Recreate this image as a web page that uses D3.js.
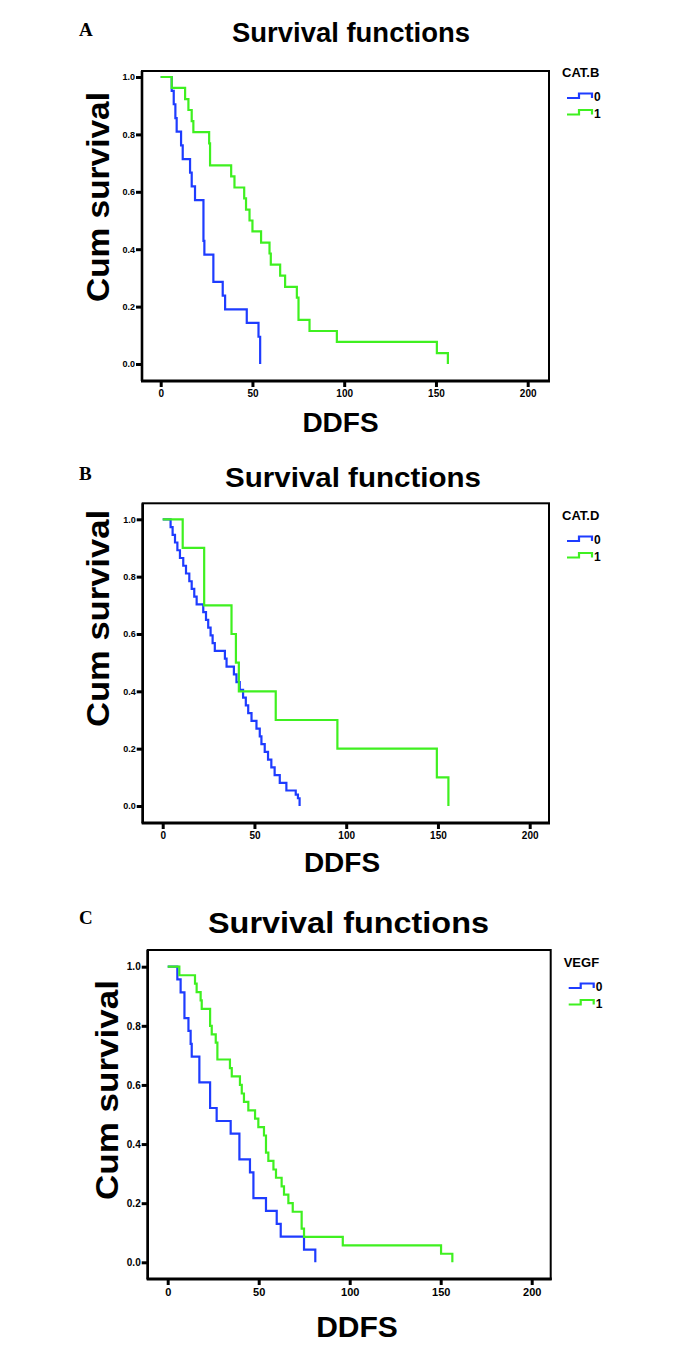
<!DOCTYPE html>
<html><head><meta charset="utf-8">
<script src="https://cdn.jsdelivr.net/npm/d3@7"></script>
<style>body{margin:0;background:#fff}svg{display:block}</style>
</head><body>
<script>
// ---------- DATA ----------
const xTicks = [0, 50, 100, 150, 200];
const yTicks = [0.0, 0.2, 0.4, 0.6, 0.8, 1.0];
const panelLetters = ["A", "B", "C"];
const legendTitles = ["CAT.B", "CAT.D", "VEGF"];
const groupLabels = ["0", "1"];

// Panel A
const A0_time = [0, 6.0, 7.1, 8.0, 8.7, 11.1, 12.0, 16.0, 16.9, 18.7, 23.3, 23.8, 28.7, 33.8, 35.1, 46.9, 53.3, 54.2];
const A0_surv = [1, 0.952, 0.905, 0.857, 0.810, 0.762, 0.714, 0.667, 0.619, 0.571, 0.429, 0.381, 0.286, 0.238, 0.190, 0.143, 0.095, 0];
const A1_time = [0, 6.0, 13.3, 15.1, 16.9, 17.8, 26.4, 26.9, 38.4, 40.2, 45.5, 46.5, 48.4, 50.0, 54.7, 59.3, 60.0, 65.1, 67.8, 74.2, 75.1, 81.1, 96.0, 150.5, 156.5];
const A1_surv = [1, 0.962, 0.923, 0.885, 0.846, 0.808, 0.769, 0.692, 0.654, 0.615, 0.577, 0.538, 0.500, 0.462, 0.423, 0.385, 0.346, 0.308, 0.269, 0.231, 0.154, 0.115, 0.077, 0.038, 0];

// Panel B
const B0_time = [0, 4.3, 5.4, 6.7, 8.0, 9.4, 11.2, 12.7, 14.5, 15.8, 17.2, 18.5, 22.1, 23.6, 24.8, 26.1, 27.2, 28.4, 33.9, 34.8, 38.8, 40.2, 42.0, 43.8, 45.3, 46.6, 48.4, 51.1, 52.9, 53.8, 55.6, 57.4, 59.2, 61.0, 63.8, 67.4, 72.5, 73.7, 74.6];
const B0_surv = [1, 0.973, 0.946, 0.919, 0.892, 0.865, 0.838, 0.811, 0.784, 0.757, 0.730, 0.703, 0.676, 0.649, 0.622, 0.595, 0.568, 0.541, 0.514, 0.486, 0.459, 0.432, 0.405, 0.378, 0.351, 0.324, 0.297, 0.270, 0.243, 0.216, 0.189, 0.162, 0.135, 0.108, 0.081, 0.054, 0.040, 0.027, 0];
const B1_time = [0, 10.9, 22.6, 37.5, 39.9, 41.5, 61.6, 95.2, 149.4, 155.7];
const B1_surv = [1, 0.9, 0.7, 0.6, 0.5, 0.4, 0.3, 0.2, 0.1, 0];

// Panel C
const C0_time = [0, 5.3, 7.1, 9.2, 11.4, 12.6, 13.2, 17.4, 23.3, 26.9, 34.6, 39.4, 45.2, 47.1, 54.0, 59.9, 62.1, 74.9, 81.1];
const C0_surv = [1, 0.957, 0.913, 0.826, 0.783, 0.739, 0.696, 0.609, 0.522, 0.478, 0.435, 0.348, 0.304, 0.217, 0.174, 0.130, 0.087, 0.043, 0];
const C1_time = [0, 6.4, 15.0, 15.9, 18.1, 18.7, 23.3, 24.2, 26.4, 27.3, 34.2, 35.2, 39.7, 40.7, 41.9, 44.3, 48.0, 49.8, 52.9, 54.0, 55.3, 58.1, 59.5, 62.6, 63.9, 66.3, 68.7, 73.6, 74.9, 96.2, 150.2, 156.4];
const C1_surv = [1, 0.971, 0.943, 0.914, 0.886, 0.857, 0.800, 0.771, 0.743, 0.686, 0.657, 0.629, 0.600, 0.571, 0.543, 0.514, 0.486, 0.457, 0.429, 0.371, 0.343, 0.314, 0.286, 0.257, 0.229, 0.200, 0.171, 0.114, 0.086, 0.057, 0.029, 0];

// ---------- LAYOUT ----------
const W = 688, H = 1350;
const blue = "#1e3cff", green = "#3ff020";
const panels = [
  {frame:{l:142,t:71,r:549,b:381}, x0:160.7, x200:527.7, y1:77, y0:364,
   title:{x1:232,x2:470,base:42,size:27}, letter:{x:79,y:36}, ddfs:{x:340.5,base:432,size:28},
   cum:{x:109,y1:92,y2:302}, legY:77, data:[[A0_time,A0_surv],[A1_time,A1_surv]], tickFont:10},
  {frame:{l:142.7,t:503.3,r:549,b:823}, x0:162.7, x200:529.7, y1:519.3, y0:806,
   title:{x1:225,x2:481,base:487,size:28}, letter:{x:79,y:480}, ddfs:{x:342,base:872,size:28},
   cum:{x:109,y1:510,y2:727}, legY:520, data:[[B0_time,B0_surv],[B1_time,B1_surv]], tickFont:10},
  {frame:{l:147.7,t:950,r:550.7,b:1279}, x0:167.7, x200:531.7, y1:966.7, y0:1262.3,
   title:{x1:208,x2:489,base:933,size:30}, letter:{x:79,y:924}, ddfs:{x:357,base:1337,size:30},
   cum:{x:118,y1:980,y2:1200}, legY:967, data:[[C0_time,C0_surv],[C1_time,C1_surv]], tickFont:11}
];

const svg = d3.select("body").append("svg").attr("width", W).attr("height", H)
  .style("font-family", "'Liberation Sans', Arial, sans-serif");

panels.forEach((p, i) => {
  const g = svg.append("g");
  const x = d3.scaleLinear().domain([0, 200]).range([p.x0, p.x200]);
  const y = d3.scaleLinear().domain([0, 1]).range([p.y0, p.y1]);
  const f = p.frame;

  // curves
  const line = d3.line().x(d => x(d[0])).y(d => y(d[1])).curve(d3.curveStepAfter);
  [blue, green].forEach((col, k) => {
    const [tt, ss] = p.data[k];
    g.append("path").datum(tt.map((t, j) => [t, ss[j]]))
      .attr("d", line).attr("fill", "none").attr("stroke", col).attr("stroke-width", 2.2);
  });

  // frame
  g.append("rect").attr("x", f.l).attr("y", f.t).attr("width", f.r - f.l).attr("height", f.b - f.t)
    .attr("fill", "none").attr("stroke", "#000").attr("stroke-width", 2);
  g.append("line").attr("x1", f.l - 1).attr("x2", f.r + 1).attr("y1", f.b).attr("y2", f.b)
    .attr("stroke", "#000").attr("stroke-width", 2.8);
  g.append("line").attr("x1", f.l).attr("x2", f.l).attr("y1", f.t).attr("y2", f.b)
    .attr("stroke", "#000").attr("stroke-width", 2.6);

  // axes
  const ax = g.append("g").attr("transform", `translate(0,${f.b})`)
    .call(d3.axisBottom(x).tickValues(xTicks).tickSize(6).tickPadding(3).tickFormat(d3.format("d")));
  ax.select(".domain").remove();
  ax.selectAll("line").attr("stroke-width", 3);
  ax.selectAll("text").attr("font-size", p.tickFont).attr("font-weight", "bold").attr("fill", "#000")
    .style("font-family", "'Liberation Sans', Arial, sans-serif");

  const ay = g.append("g").attr("transform", `translate(${f.l},0)`)
    .call(d3.axisLeft(y).tickValues(yTicks).tickSize(6).tickPadding(1).tickFormat(d3.format(".1f")));
  ay.select(".domain").remove();
  ay.selectAll("line").attr("stroke-width", 3);
  ay.selectAll("text").attr("font-size", p.tickFont - 1).attr("font-weight", "bold").attr("fill", "#000")
    .style("font-family", "'Liberation Sans', Arial, sans-serif");

  // title
  g.append("text").attr("x", p.title.x1).attr("y", p.title.base)
    .attr("font-size", p.title.size).attr("font-weight", "bold")
    .attr("textLength", p.title.x2 - p.title.x1).attr("lengthAdjust", "spacingAndGlyphs")
    .text("Survival functions");
  // panel letter
  g.append("text").attr("x", p.letter.x).attr("y", p.letter.y)
    .attr("font-size", 19).attr("font-weight", "bold")
    .style("font-family", "'Liberation Serif', 'Times New Roman', serif").text(panelLetters[i]);
  // x label
  g.append("text").attr("x", p.ddfs.x).attr("y", p.ddfs.base).attr("text-anchor", "middle")
    .attr("font-size", p.ddfs.size).attr("font-weight", "bold").text("DDFS");
  // y label
  g.append("text").attr("transform", `translate(${p.cum.x},${p.cum.y2}) rotate(-90)`)
    .attr("font-size", 31).attr("font-weight", "bold")
    .attr("textLength", p.cum.y2 - p.cum.y1).attr("lengthAdjust", "spacingAndGlyphs")
    .text("Cum survival");

  // legend
  const lx = f.r + 13;
  g.append("text").attr("x", lx).attr("y", p.legY).attr("font-size", 13).attr("font-weight", "bold").text(legendTitles[i]);
  [blue, green].forEach((col, k) => {
    const yy = p.legY + 20 + k * 16.5;
    g.append("path").attr("d", `M${lx + 5},${yy + 1} H${lx + 17} V${yy - 3.5} H${lx + 30} V${yy + 1}`)
      .attr("fill", "none").attr("stroke", col).attr("stroke-width", 2.2);
    g.append("text").attr("x", lx + 32).attr("y", yy + 4).attr("font-size", 12).attr("font-weight", "bold").text(groupLabels[k]);
  });
});
</script>
</body></html>
